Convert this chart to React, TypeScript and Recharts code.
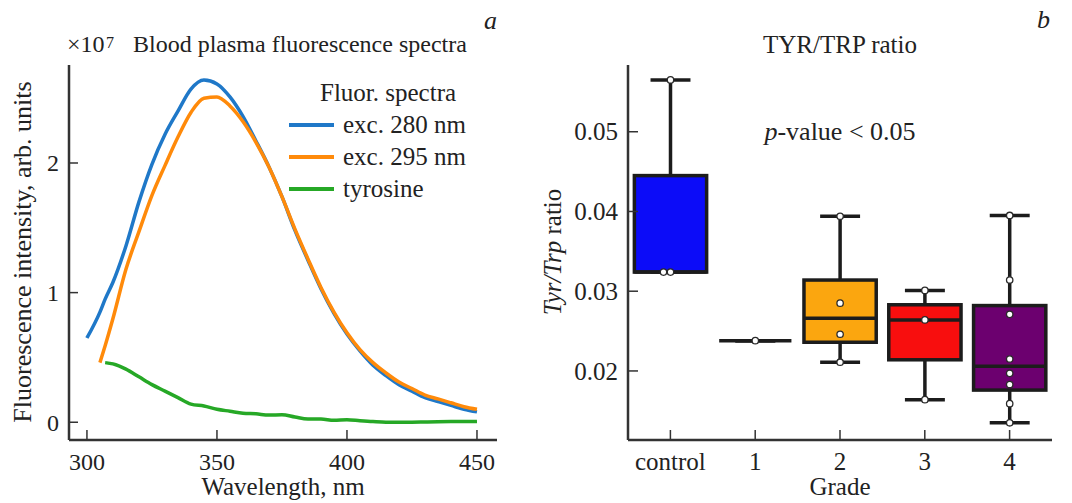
import React from 'react';
import { LineChart, Line, XAxis, YAxis, Legend, ComposedChart, Bar } from 'recharts';

const FONT = '"Liberation Serif", "Times New Roman", serif';
const INK = '#222';
const FRAME = '#333';

// panel a: fluorescence spectra, units of 1e7
const wavelengths = [300, 305, 307, 310, 315, 320, 325, 330, 335, 340, 345, 350, 355, 360, 365, 370, 375, 380, 385, 390, 395, 400, 405, 410, 415, 420, 425, 430, 435, 440, 445, 450];
const exc280 = [0.65, 0.85, 0.95, 1.08, 1.36, 1.70, 1.99, 2.22, 2.40, 2.57, 2.64, 2.61, 2.51, 2.36, 2.17, 1.97, 1.74, 1.48, 1.25, 1.03, 0.84, 0.68, 0.55, 0.44, 0.36, 0.29, 0.24, 0.19, 0.16, 0.13, 0.10, 0.08];
const exc295 = [null, 0.46, 0.59, 0.80, 1.18, 1.47, 1.75, 1.98, 2.20, 2.39, 2.50, 2.51, 2.44, 2.32, 2.16, 1.97, 1.74, 1.49, 1.26, 1.04, 0.85, 0.69, 0.56, 0.46, 0.38, 0.31, 0.26, 0.21, 0.18, 0.15, 0.12, 0.10];
const tyrosine = [null, null, 0.46, 0.45, 0.41, 0.35, 0.29, 0.24, 0.19, 0.14, 0.125, 0.10, 0.085, 0.07, 0.065, 0.055, 0.058, 0.04, 0.025, 0.025, 0.015, 0.02, 0.012, 0.005, 0, 0, 0, 0.002, 0.004, 0.005, 0.005, 0.006];
const wavelengthTicks = [300, 350, 400, 450];
const intensityTicks = [0, 1, 2];

// panel b: TYR/TRP ratio per grade
const grades = ['control', '1', '2', '3', '4'];
const whiskerLow = [0.0324, 0.0238, 0.0211, 0.0164, 0.0135];
const quartile1 = [0.0324, 0.0238, 0.0236, 0.0214, 0.0176];
const medians = [0.0324, 0.0238, 0.0266, 0.0264, 0.0206];
const quartile3 = [0.0445, 0.0238, 0.0314, 0.0283, 0.0282];
const whiskerHigh = [0.0565, 0.0238, 0.0394, 0.0301, 0.0395];
const gradePoints = [
  [0.0565, 0.0324, 0.0324],
  [0.0238],
  [0.0394, 0.0285, 0.0246, 0.0211],
  [0.0301, 0.0264, 0.0164],
  [0.0395, 0.0314, 0.0271, 0.0215, 0.0197, 0.0183, 0.0159, 0.0135],
];
const ratioTicks = [0.02, 0.03, 0.04, 0.05];
// grade 1 has a single value, so its box colour never shows
const BOX_COLORS = ['#0c0cf8', '#1a9a1a', '#fba60f', '#f80e0e', '#6c006f'];

const spectraRows = wavelengths.map((nm, i) => ({
  nm,
  exc280: exc280[i],
  exc295: exc295[i],
  tyrosine: tyrosine[i],
}));

const boxRows = grades.map((grade, i) => ({
  grade,
  lo: whiskerLow[i],
  q1: quartile1[i],
  med: medians[i],
  q3: quartile3[i],
  hi: whiskerHigh[i],
  pts: gradePoints[i],
}));

const txt = { fontFamily: FONT, fill: INK };

const leftTick = (fmt: (v: number) => string, size: number, len: number) => (p: any) => (
  <g>
    <line x1={p.x} x2={p.x + len} y1={p.y} y2={p.y} stroke={FRAME} strokeWidth={1.5} />
    <text x={p.x - 10} y={p.y} dy="0.35em" textAnchor="end" fontSize={size} {...txt}>
      {fmt(p.payload.value)}
    </text>
  </g>
);

const bottomTick = (size: number) => (p: any) => (
  <g>
    <line x1={p.x} x2={p.x} y1={p.y} y2={p.y - 10} stroke={FRAME} strokeWidth={1.5} />
    <text x={p.x} y={p.y + 30} textAnchor="middle" fontSize={size} {...txt}>
      {p.payload.value}
    </text>
  </g>
);

const SpectraLegend = ({ payload }: any) => (
  <div style={{ fontFamily: FONT, fontSize: 25, color: INK, lineHeight: '32px', textAlign: 'left' }}>
    <div style={{ paddingLeft: 31 }}>Fluor. spectra</div>
    {(payload || []).map((e: any) => (
      <div key={e.value} style={{ display: 'flex', alignItems: 'center', height: 32 }}>
        <span style={{ display: 'inline-block', width: 45, height: 4, background: e.color, marginRight: 9 }} />
        <span>{e.value}</span>
      </div>
    ))}
  </div>
);

const BoxShape = (props: any) => {
  const { x, y, width, height } = props;
  const row = props.payload || props;
  const colour = BOX_COLORS[grades.indexOf(row.grade)];
  const span = row.hi - row.lo;
  const py = (v: number) => (span > 0 ? y + ((row.hi - v) / span) * height : y);
  const cx = x + width / 2;
  const bw = width * 0.85;
  const cw = width * 0.47;
  const lw = 3.5;
  const dark = '#1c1c1c';
  const seen: Record<string, number> = {};
  return (
    <g>
      <line x1={cx} x2={cx} y1={py(row.hi)} y2={py(row.q3)} stroke={dark} strokeWidth={lw} />
      <line x1={cx} x2={cx} y1={py(row.q1)} y2={py(row.lo)} stroke={dark} strokeWidth={lw} />
      <line x1={cx - cw / 2} x2={cx + cw / 2} y1={py(row.hi)} y2={py(row.hi)} stroke={dark} strokeWidth={lw} />
      <line x1={cx - cw / 2} x2={cx + cw / 2} y1={py(row.lo)} y2={py(row.lo)} stroke={dark} strokeWidth={lw} />
      {row.q3 > row.q1 && (
        <rect
          x={cx - bw / 2}
          y={py(row.q3)}
          width={bw}
          height={py(row.q1) - py(row.q3)}
          fill={colour}
          stroke={dark}
          strokeWidth={lw}
        />
      )}
      <line x1={cx - bw / 2} x2={cx + bw / 2} y1={py(row.med)} y2={py(row.med)} stroke={dark} strokeWidth={lw} />
      {row.pts.map((v: number, i: number) => {
        const k = seen[v] || 0;
        seen[v] = k + 1;
        return <circle key={i} cx={cx - k * 7} cy={py(v)} r={3.2} fill="#fff" stroke="#2a2a2a" strokeWidth={1.3} />;
      })}
    </g>
  );
};

const abs = (left: number, top: number, extra: React.CSSProperties = {}): React.CSSProperties => ({
  position: 'absolute',
  left,
  top,
  fontFamily: FONT,
  color: INK,
  lineHeight: 1,
  whiteSpace: 'nowrap',
  ...extra,
});

export default function App() {
  const axisLine = { stroke: FRAME, strokeWidth: 2.5 };
  return (
    <div style={{ position: 'absolute', left: 0, top: 0, width: 1072, height: 503, background: '#fff', fontFamily: FONT }}>
      <div style={{ position: 'absolute', left: 0, top: 0 }}>
        <LineChart width={530} height={503} data={spectraRows} margin={{ top: 65, right: 33, bottom: 0, left: 0 }}>
          <XAxis
            dataKey="nm"
            type="number"
            domain={[293.1, 457.7]}
            allowDataOverflow
            ticks={wavelengthTicks}
            height={63}
            tickSize={0}
            tickMargin={0}
            tickLine={false}
            axisLine={axisLine}
            tick={bottomTick(24)}
            label={{ value: 'Wavelength, nm', position: 'insideBottom', offset: 8, fontSize: 25, fill: INK, fontFamily: FONT }}
          />
          <XAxis xAxisId="top" orientation="top" dataKey="nm" type="number" domain={[293.1, 457.7]} allowDataOverflow height={0} tick={false} tickLine={false} axisLine={axisLine} />
          <YAxis
            type="number"
            domain={[-0.137, 2.756]}
            allowDataOverflow
            ticks={intensityTicks}
            width={69}
            tickSize={0}
            tickMargin={0}
            tickLine={false}
            axisLine={axisLine}
            tick={leftTick((v) => String(v), 24, 9)}
            label={{
              content: () => (
                <text x={31} y={252} transform="rotate(-90, 31, 252)" textAnchor="middle" fontSize={26} {...txt}>
                  Fluorescence intensity, arb. units
                </text>
              ),
            }}
          />
          <YAxis yAxisId="right" orientation="right" type="number" domain={[0, 1]} width={0} tick={false} tickLine={false} axisLine={axisLine} />
          <Legend
            layout="vertical"
            align="center"
            verticalAlign="middle"
            content={<SpectraLegend />}
            wrapperStyle={{ top: 77, left: 289, width: 'auto' }}
          />
          <Line type="monotone" dataKey="exc280" name="exc. 280 nm" stroke="#1f78c8" strokeWidth={3.5} dot={false} isAnimationActive={false} />
          <Line type="monotone" dataKey="exc295" name="exc. 295 nm" stroke="#ff8a0a" strokeWidth={3.5} dot={false} isAnimationActive={false} />
          <Line type="monotone" dataKey="tyrosine" name="tyrosine" stroke="#26a826" strokeWidth={3.5} dot={false} isAnimationActive={false} />
        </LineChart>
      </div>

      <div style={{ position: 'absolute', left: 530, top: 0 }}>
        <ComposedChart width={542} height={503} data={boxRows} barCategoryGap={0} margin={{ top: 65, right: 20, bottom: 0, left: 0 }}>
          <XAxis
            dataKey="grade"
            height={63}
            tickSize={0}
            tickMargin={0}
            tickLine={false}
            axisLine={axisLine}
            tick={bottomTick(25)}
            label={{ value: 'Grade', position: 'insideBottom', offset: 8, fontSize: 25, fill: INK, fontFamily: FONT }}
          />
          <XAxis xAxisId="top" orientation="top" dataKey="grade" height={0} tick={false} tickLine={false} axisLine={axisLine} />
          <YAxis
            type="number"
            domain={[0.01134, 0.05837]}
            allowDataOverflow
            ticks={ratioTicks}
            width={98}
            tickSize={0}
            tickMargin={0}
            tickLine={false}
            axisLine={axisLine}
            tick={leftTick((v) => v.toFixed(2), 25, 10)}
            label={{
              content: () => (
                <text x={31} y={252} transform="rotate(-90, 31, 252)" textAnchor="middle" fontSize={25} {...txt}>
                  <tspan fontStyle="italic">Tyr/Trp</tspan> ratio
                </text>
              ),
            }}
          />
          <YAxis yAxisId="right" orientation="right" type="number" domain={[0, 1]} width={0} tick={false} tickLine={false} axisLine={axisLine} />
          <Bar dataKey={(r: any) => [r.lo, r.hi]} shape={BoxShape} isAnimationActive={false} />
        </ComposedChart>
      </div>

      <div style={abs(67, 32, { fontSize: 24 })}>×10</div>
      <div style={abs(106, 35, { fontSize: 16 })}>7</div>
      <div style={abs(133, 32, { fontSize: 24 })}>Blood plasma fluorescence spectra</div>
      <div style={abs(484, 8, { fontSize: 26, fontStyle: 'italic' })}>a</div>

      <div style={abs(628, 32, { fontSize: 25, width: 424, textAlign: 'center' })}>TYR/TRP ratio</div>
      <div style={abs(628, 119, { fontSize: 26, width: 424, textAlign: 'center' })}>
        <i>p</i>-value &lt; 0.05
      </div>
      <div style={abs(1037, 7, { fontSize: 26, fontStyle: 'italic' })}>b</div>
    </div>
  );
}
